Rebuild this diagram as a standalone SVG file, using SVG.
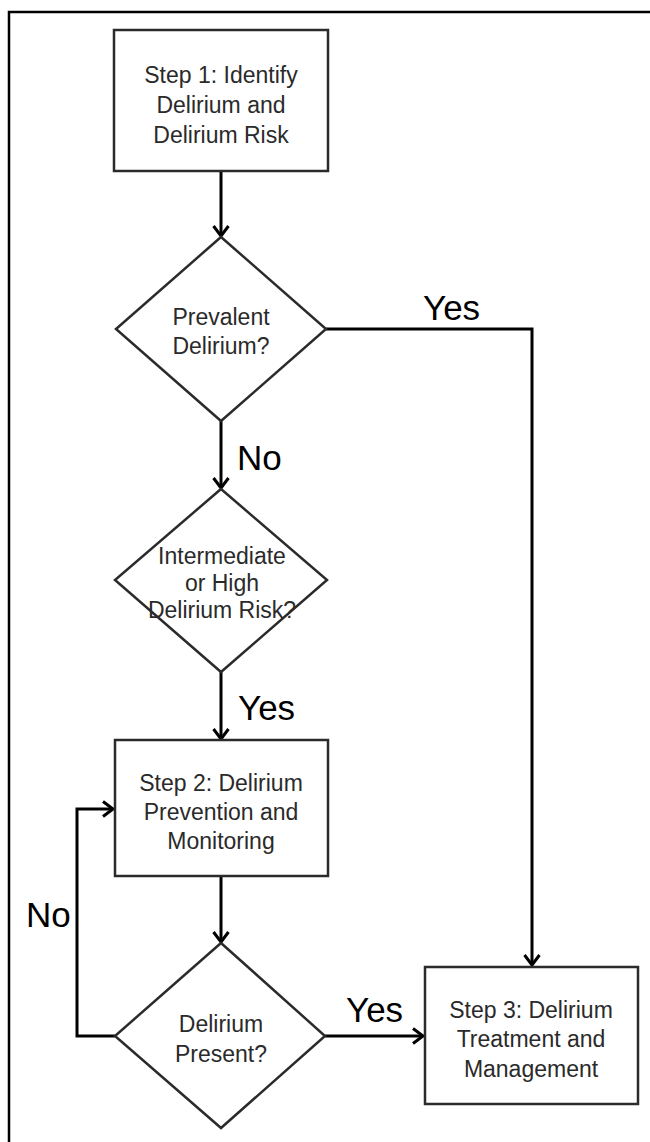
<svg xmlns="http://www.w3.org/2000/svg" width="650" height="1142" viewBox="0 0 650 1142">
  <style>
    .shape { fill: #ffffff; stroke: #2b2b2b; stroke-width: 2.5; }
    .txt { font-family: "Liberation Sans", Arial, sans-serif; font-size: 23px; fill: #2a2a2a; text-anchor: middle; }
    .lbl { font-family: "Liberation Sans", Arial, sans-serif; font-size: 35px; fill: #000000; }
    .conn { fill: none; stroke: #000000; stroke-width: 3; }
  </style>
  <defs>
    <marker id="arrow" markerUnits="userSpaceOnUse" markerWidth="20" markerHeight="20" refX="13" refY="9" orient="auto">
      <path d="M3,1.5 L13,9 L3,16.5" fill="none" stroke="#000000" stroke-width="3" stroke-linejoin="miter"/>
    </marker>
  </defs>
  <rect width="650" height="1142" fill="#ffffff"/>
  <path d="M9,1142 V12 H650" fill="none" stroke="#000000" stroke-width="2.5"/>

  <g id="connectors">
    <line class="conn" x1="221" y1="171" x2="221" y2="236" marker-end="url(#arrow)"/>
    <polyline class="conn" points="326,329 532,329 532,965" marker-end="url(#arrow)"/>
    <line class="conn" x1="221" y1="421" x2="221" y2="488" marker-end="url(#arrow)"/>
    <line class="conn" x1="221" y1="672" x2="221" y2="739" marker-end="url(#arrow)"/>
    <line class="conn" x1="221" y1="876" x2="221" y2="942" marker-end="url(#arrow)"/>
    <polyline class="conn" points="115,1036 77,1036 77,809 113,809" marker-end="url(#arrow)"/>
    <line class="conn" x1="325" y1="1036" x2="423" y2="1036" marker-end="url(#arrow)"/>
    <text class="lbl" x="423" y="320">Yes</text>
    <text class="lbl" x="237" y="470">No</text>
    <text class="lbl" x="238" y="720">Yes</text>
    <text class="lbl" x="26" y="927">No</text>
    <text class="lbl" x="346" y="1022">Yes</text>
  </g>

  <g id="step1">
    <rect class="shape" x="114" y="30" width="214" height="141"/>
    <text class="txt" x="221" y="83">Step 1: Identify</text>
    <text class="txt" x="221" y="113">Delirium and</text>
    <text class="txt" x="221" y="143">Delirium Risk</text>
  </g>

  <g id="prevalent">
    <polygon class="shape" points="221,237 326,329 221,421 116,329"/>
    <text class="txt" x="221" y="325">Prevalent</text>
    <text class="txt" x="221" y="354">Delirium?</text>
  </g>

  <g id="risk">
    <polygon class="shape" points="221,489 327,580 221,672 115,580"/>
    <text class="txt" x="222" y="564">Intermediate</text>
    <text class="txt" x="222" y="591">or High</text>
    <text class="txt" x="222" y="618">Delirium Risk?</text>
  </g>

  <g id="step2">
    <rect class="shape" x="115" y="740" width="213" height="136"/>
    <text class="txt" x="221" y="791">Step 2: Delirium</text>
    <text class="txt" x="221" y="820">Prevention and</text>
    <text class="txt" x="221" y="849">Monitoring</text>
  </g>

  <g id="present">
    <polygon class="shape" points="221,943 325,1036 221,1128 115,1036"/>
    <text class="txt" x="221" y="1032">Delirium</text>
    <text class="txt" x="221" y="1062">Present?</text>
  </g>

  <g id="step3">
    <rect class="shape" x="425" y="967" width="213" height="137"/>
    <text class="txt" x="531" y="1018">Step 3: Delirium</text>
    <text class="txt" x="531" y="1047">Treatment and</text>
    <text class="txt" x="531" y="1077">Management</text>
  </g>
</svg>
